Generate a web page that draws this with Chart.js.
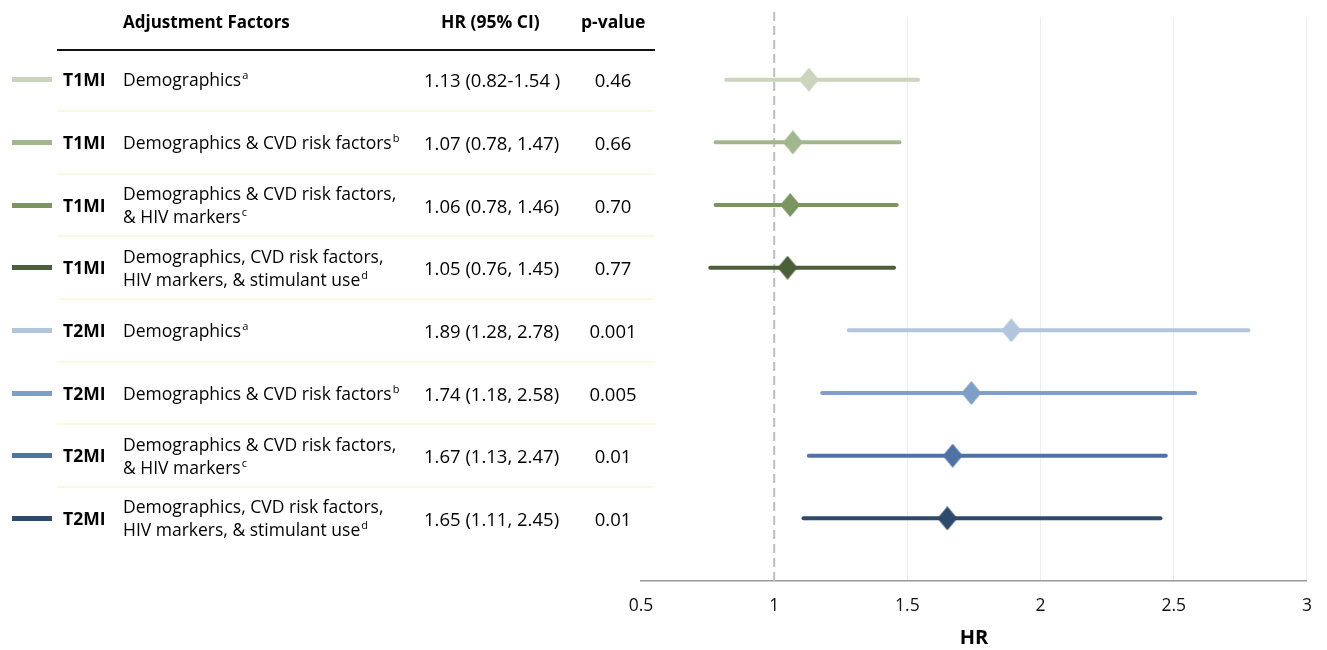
<!DOCTYPE html>
<html>
<head>
<meta charset="utf-8">
<script src="https://cdn.jsdelivr.net/npm/chart.js@4.4.1/dist/chart.umd.min.js"></script>
<style>
  html, body { margin: 0; padding: 0; background: #fff; }
  body { width: 1327px; height: 650px; position: relative; overflow: hidden;
         font-family: "Open Sans", Lato, sans-serif; color: #000; }
  #chartBox { position: absolute; left: 0; top: 0; width: 1327px; height: 650px; }
  .t { position: absolute; white-space: nowrap; font-size: 17.5px; line-height: 23px; }
  .num { font-size: 18.5px; }
  .b { font-weight: bold; }
  .s { font-size: 11px; position: relative; top: -7px; margin-left: 1px; }
  .hline { position: absolute; left: 57px; width: 598px; }
  .swatch { position: absolute; left: 12px; width: 40px; height: 5px; }
</style>
</head>
<body>
<div id="chartBox"><canvas id="forest"></canvas></div>
<div id="table"></div>
<script>
// rows, top to bottom
const outcomes = ['T1MI', 'T1MI', 'T1MI', 'T1MI', 'T2MI', 'T2MI', 'T2MI', 'T2MI'];
const adjLine1 = ['Demographics', 'Demographics & CVD risk factors', 'Demographics & CVD risk factors,',
  'Demographics, CVD risk factors,', 'Demographics', 'Demographics & CVD risk factors',
  'Demographics & CVD risk factors,', 'Demographics, CVD risk factors,'];
const adjLine2 = ['', '', '& HIV markers', 'HIV markers, & stimulant use', '', '', '& HIV markers', 'HIV markers, & stimulant use'];
const adjSup = ['a', 'b', 'c', 'd', 'a', 'b', 'c', 'd'];
const hrText = ['1.13 (0.82-1.54 )', '1.07 (0.78, 1.47)', '1.06 (0.78, 1.46)', '1.05 (0.76, 1.45)',
  '1.89 (1.28, 2.78)', '1.74 (1.18, 2.58)', '1.67 (1.13, 2.47)', '1.65 (1.11, 2.45)'];
const pValues = ['0.46', '0.66', '0.70', '0.77', '0.001', '0.005', '0.01', '0.01'];

const hr = [1.13, 1.07, 1.06, 1.05, 1.89, 1.74, 1.67, 1.65];
const ciLow = [0.82, 0.78, 0.78, 0.76, 1.28, 1.18, 1.13, 1.11];
const ciHigh = [1.54, 1.47, 1.46, 1.45, 2.78, 2.58, 2.47, 2.45];

const colors = ['#c9d5bd', '#a3b78e', '#7a955f', '#4b5f38', '#b1c5dd', '#7f9fc9', '#4d73a6', '#2e4a6b'];
const xTicks = [0.5, 1, 1.5, 2, 2.5, 3];
const refValue = 1;

const rowY = hr.map((v, i) => hr.length - i);   // 8 .. 1, slot 0 left empty

// diamond markers, a bit taller than wide
function diamond(color) {
  const c = document.createElement('canvas');
  c.width = 20; c.height = 24;
  const g = c.getContext('2d');
  g.fillStyle = color;
  g.beginPath();
  g.moveTo(10, 0); g.lineTo(20, 12); g.lineTo(10, 24); g.lineTo(0, 12);
  g.closePath();
  g.fill();
  return c;
}
const markers = colors.map(diamond);

const datasets = [];
datasets.push({
  label: 'HR',
  data: hr.map((v, i) => ({x: v, y: rowY[i]})),
  pointStyle: ctx => markers[ctx.dataIndex],
  pointRadius: 10,
  showLine: false,
  order: 0
});
hr.forEach((v, i) => {
  datasets.push({
    label: 'CI ' + i,
    data: [{x: ciLow[i], y: rowY[i]}, {x: ciHigh[i], y: rowY[i]}],
    showLine: true,
    borderColor: colors[i],
    borderWidth: 4,
    borderCapStyle: 'round',
    pointRadius: 0,
    order: 1
  });
});
datasets.push({
  label: 'ref',
  data: [{x: refValue, y: 0}, {x: refValue, y: 9.15}],
  showLine: true,
  borderColor: '#bdbdbd',
  borderWidth: 2,
  borderDash: [9, 5],
  pointRadius: 0,
  clip: false,
  order: 2
});

const chart = new Chart(document.getElementById('forest'), {
  type: 'scatter',
  data: {datasets},
  options: {
    responsive: true,
    maintainAspectRatio: false,
    animation: false,
    layout: {padding: {left: 641, right: 18, top: 17, bottom: 0}},
    plugins: {legend: {display: false}, tooltip: {enabled: false}},
    scales: {
      x: {
        type: 'linear', min: 0.5, max: 3,
        afterBuildTicks: s => { s.ticks = xTicks.map(v => ({value: v})); },
        afterFit: s => { s.height = 69; },
        grid: {
          drawTicks: false,
          color: ctx => (ctx.tick && ctx.tick.value > 1) ? '#eeeeee' : 'rgba(0,0,0,0)',
          lineWidth: 1
        },
        border: {color: '#9a9a9a', width: 1.5},
        ticks: {
          padding: 15, color: '#111',
          font: {family: '"Open Sans", sans-serif', size: 17.5},
          callback: v => String(v)
        },
        title: {
          display: true, text: 'HR', color: '#000',
          font: {family: '"Open Sans", sans-serif', size: 20, weight: 'bold'},
          padding: {top: 4, bottom: 0}
        }
      },
      y: {type: 'linear', min: 0, max: 9, display: false}
    }
  }
});

// left-hand table, rows lined up with the chart's own y scale
const table = document.getElementById('table');
function add(cls, html, css) {
  const d = document.createElement('div');
  d.className = cls;
  d.innerHTML = html;
  Object.assign(d.style, css);
  table.appendChild(d);
  return d;
}
add('t b', 'Adjustment Factors', {left: '123px', top: '10px', fontSize: '17px'});
add('t b', 'HR (95% CI)', {left: '441px', top: '10px', fontSize: '17.5px'});
add('t b', 'p-value', {left: '581px', top: '10px', fontSize: '17.5px'});
add('hline', '', {top: '49px', height: '1.5px', background: '#111'});

const ys = chart.scales.y;
rowY.forEach((v, i) => {
  const y = ys.getPixelForValue(v);
  add('swatch', '', {top: (y - 2.5) + 'px', background: colors[i]});
  add('t b', outcomes[i], {left: '63px', top: (y - 11.5) + 'px'});
  const sup = '<span class="s">' + adjSup[i] + '</span>';
  if (adjLine2[i]) {
    add('t', adjLine1[i] + '<br>' + adjLine2[i] + sup, {left: '123px', top: (y - 23) + 'px'});
  } else {
    add('t', adjLine1[i] + sup, {left: '123px', top: (y - 11.5) + 'px'});
  }
  add('t num', hrText[i], {left: '424px', top: (y - 11.5) + 'px'});
  add('t num', pValues[i], {left: '583px', width: '60px', textAlign: 'center', top: (y - 11.5) + 'px'});
  if (i < rowY.length - 1) {
    const yb = ys.getPixelForValue(v - 0.5);
    add('hline', '', {top: (yb - 1) + 'px', height: '2px', background: '#fcf9e1'});
  }
});
</script>
</body>
</html>
